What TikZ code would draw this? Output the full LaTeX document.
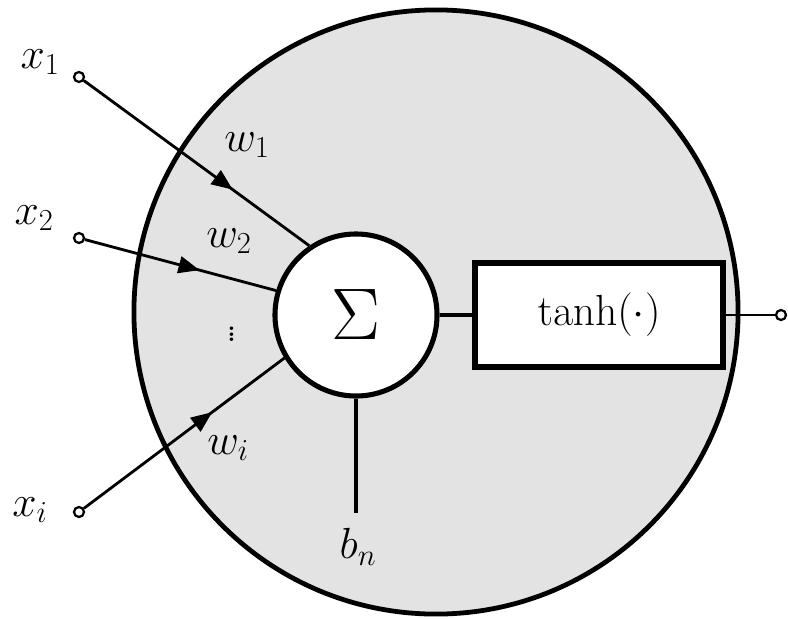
\RequirePackage{fix-cm}
\documentclass[tikz,border=0pt]{standalone}
\usetikzlibrary{arrows.meta,positioning,decorations.markings}

\begin{document}
\begin{tikzpicture}[
    x=0.025cm, y=-0.025cm,
    neuronbody/.style={circle, draw, line width=3.4pt, fill=black!11,
                minimum size=15.1cm, inner sep=0pt},
    sumnode/.style={circle, draw, line width=3.6pt, fill=white,
                minimum size=4.05cm, inner sep=0pt, font=\fontsize{52}{60}\selectfont},
    actbox/.style={draw, line width=3.8pt, fill=white, minimum width=6.2cm,
                minimum height=2.6cm, inner sep=0pt, font=\fontsize{31}{36}\selectfont},
    termdot/.style={circle, draw, line width=1.6pt, fill=white,
                minimum size=0.25cm, inner sep=0pt},
    lbl/.style={font=\fontsize{31}{36}\selectfont, inner sep=1pt},
    wire/.style={line width=2pt},
    midarr/.style={postaction={decorate}, decoration={markings,
                mark=at position #1 with {\arrow{Triangle[length=15pt, width=12pt]}}}}
  ]
    \useasboundingbox (0,0) rectangle (788,618);

    % Neuron body
    \node[neuronbody] (body) at (436,312) {};

    % Summation and activation
    \node[sumnode] (sum) at (356,315) {$\Sigma$};
    \node[actbox]  (act) at (599,315) {$\tanh(\cdot)$};

    % Input terminals
    \node[termdot] (x1) at (79,77)  {};
    \node[termdot] (x2) at (79,238) {};
    \node[termdot] (xi) at (79,512) {};
    \node[termdot] (out) at (781,315) {};

    \node[lbl] (lx1) at (40,62)  {$x_1$};
    \node[lbl] (lx2) at (34,218) {$x_2$};
    \node[lbl] (lxi) at (30,510) {$x_i$};

    % Weighted connections
    \draw[wire, midarr=0.66] (x1) -- (sum.124.5);
    \draw[wire, midarr=0.6]  (x2) -- (sum.163);
    \draw[wire, midarr=0.64] (xi) -- (sum.211);

    \node[lbl] (w1) at (247,145) {$w_1$};
    \node[lbl] (w2) at (229,241) {$w_2$};
    \node[lbl] (wi) at (228,448) {$w_i$};
    \node[lbl] (dots) at (232,330) {$\vdots$};

    % Bias
    \coordinate (bend) at (356,513);
    \draw[wire, line width=2.4pt] (sum) -- (bend);
    \node[lbl] (bn) at (358,547) {$b_n$};

    % Output
    \draw[wire, line width=2.4pt] (sum) -- (act);
    \draw[wire] (act) -- (out);
  \end{tikzpicture}
\end{document}
